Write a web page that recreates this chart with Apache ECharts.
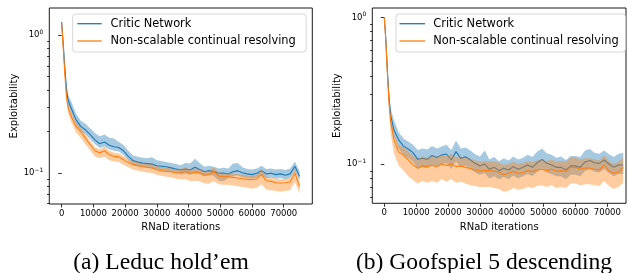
<!DOCTYPE html>
<html><head><meta charset="utf-8">
<script src="https://cdn.jsdelivr.net/npm/echarts@6/dist/echarts.min.js"></script>
<style>html,body{margin:0;padding:0;background:#fff}#c{width:628px;height:273px}</style>
</head><body><div id="c"></div>
<script>
// ---------- data ----------
const iters = [0,500,1000,1500,2000,3000,4500,6000,7500,9000,10500,12000,13500,15000,16500,18000,19500,21000,22500,24000,25500,27000,28500,30000,31500,33000,34500,36000,37500,39000,40500,42000,43500,45000,46500,48000,49500,51000,52500,54000,55500,57000,58500,60000,61500,63000,64500,66000,67500,69000,70500,72000,73500,75000];

// (a) Leduc hold'em
const leducCriticMean = [1.25,0.86,0.58,0.41,0.34,0.295,0.244,0.218,0.206,0.190,0.174,0.163,0.168,0.159,0.155,0.153,0.145,0.132,0.123,0.120,0.118,0.117,0.116,0.113,0.112,0.111,0.109,0.107,0.105,0.107,0.105,0.110,0.106,0.102,0.104,0.102,0.0995,0.100,0.0985,0.102,0.104,0.1005,0.0985,0.0973,0.0995,0.104,0.0985,0.0995,0.0973,0.0985,0.0962,0.0985,0.112,0.0945];
const leducCriticHigh = [1.30,0.92,0.63,0.45,0.37,0.33,0.27,0.24,0.228,0.21,0.195,0.185,0.19,0.18,0.178,0.168,0.160,0.145,0.134,0.131,0.129,0.128,0.130,0.124,0.122,0.120,0.118,0.116,0.114,0.118,0.117,0.127,0.118,0.111,0.113,0.111,0.108,0.109,0.108,0.117,0.118,0.110,0.107,0.106,0.108,0.113,0.107,0.108,0.106,0.107,0.105,0.108,0.121,0.103];
const leducCriticLow = [1.20,0.80,0.54,0.38,0.31,0.27,0.225,0.203,0.19,0.176,0.162,0.152,0.156,0.148,0.145,0.143,0.135,0.124,0.115,0.112,0.110,0.109,0.108,0.106,0.105,0.104,0.102,0.100,0.098,0.099,0.097,0.101,0.098,0.095,0.097,0.095,0.088,0.087,0.092,0.095,0.096,0.093,0.092,0.091,0.093,0.096,0.092,0.093,0.091,0.092,0.090,0.092,0.103,0.088];
const leducResolveMean = [1.22,0.80,0.52,0.36,0.30,0.258,0.218,0.200,0.179,0.161,0.145,0.140,0.145,0.136,0.132,0.131,0.125,0.119,0.115,0.113,0.111,0.110,0.1087,0.1057,0.104,0.1028,0.102,0.100,0.1005,0.1028,0.0995,0.101,0.1005,0.0962,0.0973,0.102,0.095,0.094,0.094,0.093,0.0919,0.0909,0.0899,0.0894,0.0909,0.0973,0.0879,0.0869,0.085,0.0845,0.085,0.086,0.100,0.080];
const leducResolveHigh = [1.26,0.84,0.55,0.38,0.32,0.275,0.232,0.212,0.19,0.171,0.154,0.149,0.155,0.145,0.140,0.139,0.133,0.126,0.122,0.120,0.118,0.117,0.116,0.112,0.110,0.109,0.108,0.106,0.107,0.110,0.106,0.108,0.107,0.103,0.104,0.110,0.101,0.100,0.100,0.099,0.098,0.097,0.096,0.095,0.097,0.107,0.094,0.093,0.091,0.090,0.091,0.092,0.107,0.086];
const leducResolveLow = [1.17,0.76,0.49,0.335,0.275,0.235,0.198,0.180,0.162,0.146,0.132,0.128,0.131,0.124,0.121,0.120,0.115,0.110,0.106,0.104,0.102,0.101,0.100,0.097,0.0955,0.094,0.093,0.091,0.090,0.090,0.087,0.088,0.087,0.084,0.084,0.087,0.083,0.082,0.082,0.081,0.080,0.079,0.078,0.077,0.078,0.083,0.076,0.075,0.074,0.073,0.074,0.075,0.086,0.071];

// (b) Goofspiel 5 descending
const goofCriticMean = [1.0,0.70,0.42,0.28,0.215,0.172,0.1465,0.133,0.127,0.120,0.108,0.110,0.108,0.115,0.1114,0.1156,0.1175,0.107,0.122,0.1097,0.1127,0.107,0.1015,0.0975,0.1005,0.0925,0.0953,0.0905,0.0939,0.0915,0.0964,0.0925,0.0953,0.0989,0.0953,0.1025,0.108,0.1015,0.0989,0.0953,0.0953,0.0915,0.0975,0.0975,0.0953,0.1037,0.106,0.1025,0.1015,0.107,0.1005,0.0953,0.0989,0.0989];
const goofCriticHigh = [1.02,0.75,0.47,0.31,0.24,0.20,0.165,0.150,0.143,0.136,0.125,0.128,0.126,0.133,0.128,0.132,0.136,0.125,0.145,0.128,0.130,0.124,0.117,0.113,0.124,0.108,0.112,0.105,0.110,0.106,0.113,0.108,0.111,0.116,0.112,0.122,0.128,0.119,0.116,0.111,0.113,0.107,0.114,0.114,0.112,0.124,0.127,0.120,0.118,0.124,0.117,0.112,0.118,0.120];
const goofCriticLow = [0.98,0.66,0.39,0.255,0.193,0.155,0.128,0.116,0.110,0.104,0.094,0.096,0.094,0.100,0.097,0.100,0.102,0.093,0.105,0.095,0.098,0.093,0.088,0.085,0.087,0.080,0.083,0.079,0.082,0.079,0.084,0.080,0.083,0.086,0.083,0.089,0.094,0.088,0.086,0.083,0.083,0.079,0.085,0.085,0.083,0.090,0.092,0.089,0.088,0.093,0.087,0.083,0.086,0.086];
const goofResolveMean = [1.0,0.68,0.40,0.26,0.195,0.148,0.121,0.116,0.107,0.0994,0.094,0.0975,0.0964,0.0984,0.0964,0.1005,0.098,0.1005,0.0964,0.0975,0.0953,0.0935,0.0915,0.090,0.0905,0.0905,0.0897,0.0888,0.085,0.0869,0.0892,0.0869,0.0878,0.0905,0.0892,0.0915,0.0925,0.0905,0.0925,0.0897,0.0905,0.0892,0.0953,0.0953,0.0925,0.0944,0.0944,0.0925,0.0915,0.0989,0.0905,0.0869,0.0888,0.0953];
const goofResolveHigh = [1.02,0.71,0.42,0.275,0.21,0.162,0.135,0.131,0.123,0.115,0.108,0.113,0.111,0.114,0.112,0.116,0.114,0.117,0.112,0.113,0.111,0.109,0.106,0.105,0.105,0.105,0.104,0.103,0.099,0.101,0.104,0.101,0.102,0.105,0.104,0.106,0.108,0.105,0.108,0.104,0.105,0.104,0.111,0.111,0.108,0.110,0.110,0.108,0.106,0.115,0.105,0.101,0.104,0.111];
const goofResolveLow = [0.97,0.62,0.35,0.22,0.162,0.12,0.098,0.091,0.083,0.078,0.074,0.077,0.075,0.077,0.075,0.079,0.076,0.079,0.075,0.076,0.074,0.072,0.071,0.070,0.070,0.070,0.069,0.068,0.065,0.066,0.069,0.067,0.068,0.070,0.069,0.071,0.072,0.070,0.072,0.069,0.070,0.069,0.074,0.074,0.072,0.073,0.073,0.072,0.071,0.077,0.071,0.068,0.070,0.075];

const xTicks = [0,10000,20000,30000,40000,50000,60000,70000];
const yMajor = [0.1, 1];
const yMinor = [0.06,0.07,0.08,0.09,0.2,0.3,0.4,0.5,0.6,0.7,0.8,0.9];
const seriesNames = ['Critic Network', 'Non-scalable continual resolving'];
const captions = ['(a) Leduc hold\u2019em', '(b) Goofspiel 5 descending'];

// ---------- styles ----------
const BLUE = '#1f77b4', ORANGE = '#ff7f0e';
const BLUE_F = 'rgba(31,119,180,0.4)', ORANGE_F = 'rgba(255,127,14,0.4)';
const FONT = 'DejaVu Sans';

const panels = [
  {grid:{left:49.3, top:8, width:263, height:196}, xmin:-3900, xmax:79000, ymin:0.05955, ymax:1.578,
   data:[[leducCriticMean,leducCriticLow,leducCriticHigh],[leducResolveMean,leducResolveLow,leducResolveHigh]]},
  {grid:{left:372.3, top:8, width:253.7, height:195.3}, xmin:-3770, xmax:75860, ymin:0.05423, ymax:1.161,
   data:[[goofCriticMean,goofCriticLow,goofCriticHigh],[goofResolveMean,goofResolveLow,goofResolveHigh]]}
];

const grids = [], xAxes = [], yAxes = [], series = [];
panels.forEach((p, pi) => {
  grids.push(Object.assign({show:true, borderColor:'#000', borderWidth:0.9, backgroundColor:'transparent'}, p.grid));
  xAxes.push({
    type:'value', gridIndex:pi, min:p.xmin, max:p.xmax,
    splitLine:{show:false}, axisLine:{show:false},
    axisTick:{show:true, customValues:xTicks, length:3.5, lineStyle:{color:'#000', width:0.8}},
    axisLabel:{customValues:xTicks, fontSize:8.5, fontFamily:FONT, color:'#000', margin:5,
      formatter: v => String(Math.round(v))},
    name:'RNaD iterations', nameLocation:'middle', nameGap:15,
    nameTextStyle:{fontSize:10, fontFamily:FONT, color:'#000'}
  });
  yAxes.push({
    type:'log', gridIndex:pi, min:p.ymin, max:p.ymax, position:'left',
    splitLine:{show:false}, axisLine:{show:false},
    axisTick:{show:true, customValues:yMajor, length:3.5, lineStyle:{color:'#000', width:0.8}},
    axisLabel:{customValues:yMajor, margin:6, color:'#000',
      formatter: v => v > 0.5 ? '{b|10}{s|0}' : '{b|10}{s|\u22121}',
      rich:{ b:{fontSize:8.5, fontFamily:FONT, color:'#000'},
             s:{fontSize:6, fontFamily:FONT, color:'#000', padding:[0,0,6,0]} }},
    name:'Exploitability', nameLocation:'middle', nameGap:25,
    nameTextStyle:{fontSize:10, fontFamily:FONT, color:'#000'}
  });
  yAxes.push({
    type:'log', gridIndex:pi, min:p.ymin, max:p.ymax, position:'left', offset:0,
    splitLine:{show:false}, axisLine:{show:false}, axisLabel:{show:false},
    axisTick:{show:true, customValues:yMinor, length:2.2, lineStyle:{color:'#000', width:0.8}}
  });
  const yIdx = pi * 2;
  const colors = [[BLUE, BLUE_F],[ORANGE, ORANGE_F]];
  p.data.forEach((d, si) => {
    const [mean, lo, hi] = d;
    series.push({
      type:'custom', name:seriesNames[si], xAxisIndex:pi, yAxisIndex:yIdx, data:[[1000, 0.5]],
      silent:true, z:2 + si*2,
      renderItem:(params, api) => {
        const pts = [];
        for (let i = 0; i < iters.length; i++) pts.push(api.coord([iters[i], hi[i]]));
        for (let i = iters.length - 1; i >= 0; i--) pts.push(api.coord([iters[i], lo[i]]));
        return {type:'polygon', shape:{points:pts}, style:{fill:colors[si][1], stroke:null}};
      }
    });
    series.push({
      type:'line', name:seriesNames[si], xAxisIndex:pi, yAxisIndex:yIdx,
      data: iters.map((x, i) => [x, mean[i]]),
      showSymbol:false, symbol:'none', z:3 + si*2,
      lineStyle:{color:colors[si][0], width:1.1}
    });
  });
});

// legends and captions as graphic
const graphic = [];
const legendBoxes = [
  {x:72.7, y:14, w:233.5, h:38, lx0:77.3, lx1:101.7, tx:110.5},
  {x:396, y:14, w:229.5, h:38, lx0:399.5, lx1:425, tx:433.3}
];
legendBoxes.forEach(b => {
  graphic.push({type:'rect', shape:{x:b.x, y:b.y, width:b.w, height:b.h, r:3}, style:{fill:'rgba(255,255,255,0.8)', stroke:'#cccccc', lineWidth:0.8}, z:100});
  [[BLUE,23.7],[ORANGE,41]].forEach((c, i) => {
    graphic.push({type:'line', shape:{x1:b.lx0, y1:c[1], x2:b.lx1, y2:c[1]}, style:{stroke:c[0], lineWidth:1.3}, z:101});
    graphic.push({type:'text', x:b.tx, y:c[1], style:{text:seriesNames[i], fontSize:11.4, fontFamily:FONT, fill:'#000', verticalAlign:'middle', align:'left'}, z:101});
  });
});
[[161, captions[0]], [484, captions[1]]].forEach(c => {
  graphic.push({type:'text', x:c[0], y:262.5, style:{text:c[1], fontSize:23.6, fontFamily:'Liberation Serif', fill:'#000', align:'center', verticalAlign:'middle'}});
});

const chart = echarts.init(document.getElementById('c'), null, {renderer:'canvas'});
chart.setOption({
  animation:false,
  backgroundColor:'#fff',
  grid:grids, xAxis:xAxes, yAxis:yAxes, series:series, graphic:graphic
});
</script></body></html>
